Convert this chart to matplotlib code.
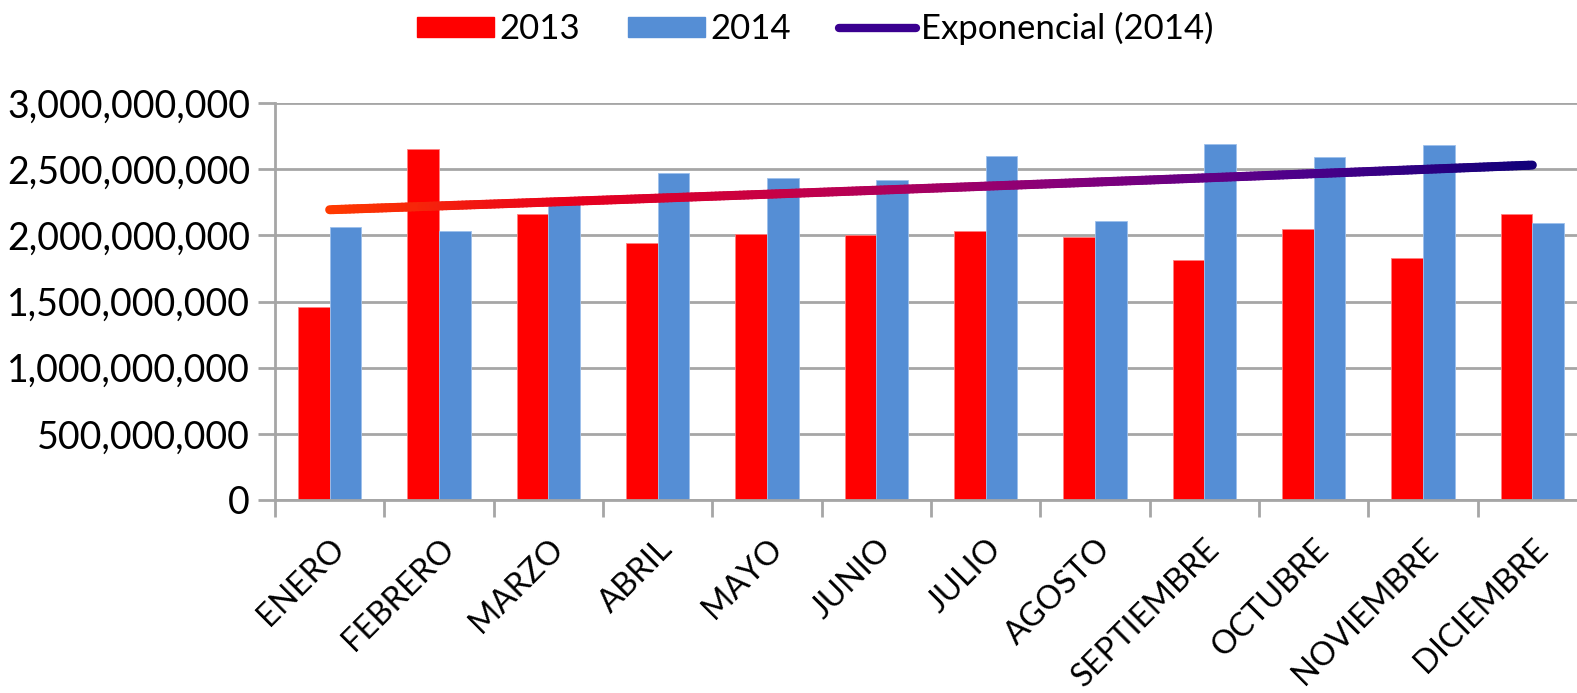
import numpy as np
import matplotlib.pyplot as plt
from matplotlib.collections import LineCollection
from matplotlib.colors import LinearSegmentedColormap
from matplotlib.lines import Line2D
from matplotlib.patches import Patch
from matplotlib.ticker import FuncFormatter
from matplotlib.transforms import ScaledTranslation

months = ['ENERO', 'FEBRERO', 'MARZO', 'ABRIL', 'MAYO', 'JUNIO', 'JULIO',
          'AGOSTO', 'SEPTIEMBRE', 'OCTUBRE', 'NOVIEMBRE', 'DICIEMBRE']
y2013 = [1.46e9, 2.65e9, 2.16e9, 1.94e9, 2.01e9, 2.00e9, 2.03e9,
         1.99e9, 1.81e9, 2.05e9, 1.83e9, 2.16e9]
y2014 = [2.06e9, 2.03e9, 2.25e9, 2.47e9, 2.43e9, 2.42e9, 2.60e9,
         2.11e9, 2.69e9, 2.59e9, 2.68e9, 2.09e9]

RED = '#ff0000'
BLUE = '#558ed5'
GRID = '#a6a6a6'
plt.rcParams['font.family'] = ['Lato', 'DejaVu Sans']

fig = plt.figure(figsize=(15.77, 6.93), dpi=100)
ax = fig.add_axes([275 / 1577, 193 / 693, 1312 / 1577, 397 / 693])

x = np.arange(len(months))
w = 0.29
ax.bar(x - w / 2, y2013, w, color=RED, edgecolor='#ff8080', linewidth=0.6, zorder=2)
ax.bar(x + w / 2, y2014, w, color=BLUE, edgecolor='#9dc0ec', linewidth=0.6, zorder=2)

# exponential trend of 2014
t = x + 1
b, a = np.polyfit(t, np.log(y2014), 1)
xs = np.linspace(x[0], x[-1], 300)
ys = np.exp(a + b * (xs + 1))
pts = np.column_stack([xs, ys]).reshape(-1, 1, 2)
segs = np.concatenate([pts[:-1], pts[1:]], axis=1)
cmap = LinearSegmentedColormap.from_list(
    'trend', ['#ff3a00', '#e8001c', '#c0004c', '#8a0078', '#50008a', '#12007a'])
lc = LineCollection(segs, cmap=cmap, linewidth=6.5, capstyle='round', zorder=3)
lc.set_array(np.linspace(0, 1, len(segs)))
ax.add_collection(lc)

ax.set_xlim(-0.5, len(months) - 0.5)
ax.set_ylim(0, 3e9)
ax.set_yticks(np.arange(0, 3.01e9, 5e8))
ax.yaxis.set_major_formatter(FuncFormatter(lambda v, p: f'{v:,.0f}'))
ax.grid(axis='y', color=GRID, linewidth=2, zorder=0)
ax.set_axisbelow(True)

ax.set_xticks(np.arange(len(months) + 1) - 0.5)
ax.set_xticklabels([])
ax.set_xticks(x, minor=True)
ax.set_xticklabels(months, minor=True, rotation=45, ha='right', va='top',
                   rotation_mode='anchor', fontsize=23.5)
shift = ScaledTranslation(-10 / 100, 0, fig.dpi_scale_trans)
for lab in ax.get_xticklabels(minor=True):
    lab.set_transform(lab.get_transform() + shift)
ax.tick_params(axis='x', which='minor', length=0, pad=24)
ax.tick_params(axis='x', which='major', length=12, width=2, color=GRID)
ax.tick_params(axis='y', length=12, width=2, color=GRID, labelsize=27, pad=6)

for s in ['top', 'right']:
    ax.spines[s].set_visible(False)
for s in ['left', 'bottom']:
    ax.spines[s].set_color(GRID)
    ax.spines[s].set_linewidth(2)

handles = [Patch(color=RED, label='2013'), Patch(color=BLUE, label='2014'),
           Line2D([], [], color='#3a0090', linewidth=6, solid_capstyle='round',
                  label='Exponencial (2014)')]
fig.legend(handles=handles, loc='upper center', bbox_to_anchor=(0.517, 1.028),
           ncol=3, frameon=False, fontsize=25, handlelength=2.2,
           handleheight=0.5, handletextpad=0.15, columnspacing=1.4)

fig.savefig('out.png', dpi=100)
